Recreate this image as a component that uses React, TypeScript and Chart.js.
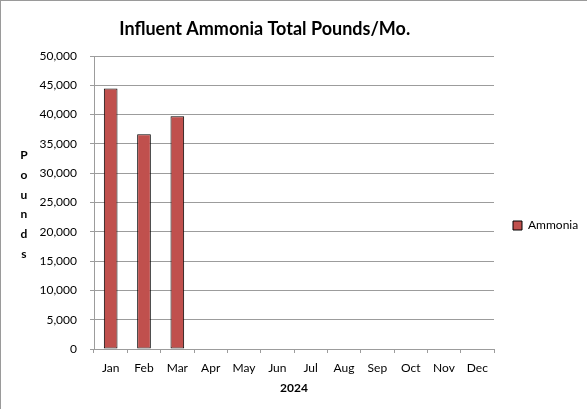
import React, { useEffect, useRef } from 'react';
import { Chart, registerables } from 'chart.js';

Chart.register(...registerables);

const months = ['Jan', 'Feb', 'Mar', 'Apr', 'May', 'Jun', 'Jul', 'Aug', 'Sep', 'Oct', 'Nov', 'Dec'];
const ammonia: (number | null)[] = [44450, 36650, 39700, null, null, null, null, null, null, null, null, null];
const seriesLabel = 'Ammonia';
const chartTitle = 'Influent Ammonia Total Pounds/Mo.';
const yAxisTitle = 'Pounds';
const xAxisTitle = '2024';
const yMin = 0;
const yMax = 50000;
const yStep = 5000;

const FONT = 'Lato, "Open Sans", sans-serif';
const GRID = '#9c9c9c';

export default function App() {
  const ref = useRef<HTMLCanvasElement>(null);

  useEffect(() => {
    const canvas = ref.current;
    if (!canvas) return;
    document.body.style.margin = '0';

    const textPlugin = {
      id: 'excelText',
      afterDraw(chart: any) {
        const ctx = chart.ctx;
        const area = chart.chartArea;
        ctx.save();
        ctx.fillStyle = '#000';
        ctx.textAlign = 'center';
        ctx.textBaseline = 'alphabetic';
        ctx.font = `bold 18px ${FONT}`;
        ctx.fillText(chartTitle, chart.width * 0.45, 34);
        ctx.font = `bold 12px ${FONT}`;
        const letters = Array.from(yAxisTitle);
        const x = chart.scales.y.left - 15;
        const midY = (area.top + area.bottom) / 2 + 6;
        const step = 19.8;
        letters.forEach((ch, i) => {
          ctx.fillText(ch, x, midY + (i - (letters.length - 1) / 2) * step);
        });
        ctx.restore();
      },
    };

    Chart.defaults.font.family = FONT;

    const chart = new Chart(canvas, {
      type: 'bar',
      data: {
        labels: months,
        datasets: [
          {
            label: seriesLabel,
            data: ammonia,
            backgroundColor: '#C0504D',
            borderColor: '#000000',
            borderWidth: 1,
            borderSkipped: false,
            barPercentage: 0.41,
            categoryPercentage: 1,
          },
        ],
      },
      options: {
        responsive: false,
        animation: false,
        layout: { padding: { top: 55, left: 38, right: 0, bottom: 14 } },
        plugins: {
          title: { display: false },
          tooltip: { enabled: false },
          legend: {
            display: true,
            position: 'right',
            maxWidth: 93,
            labels: {
              boxWidth: 9,
              boxHeight: 9,
              padding: 19,
              color: '#000',
              font: { size: 12, family: FONT },
            },
          },
        },
        scales: {
          x: {
            grid: {
              display: true,
              drawOnChartArea: false,
              drawTicks: true,
              tickLength: 4,
              color: GRID,
              offset: true,
            },
            border: { display: true, color: GRID },
            ticks: {
              padding: 8,
              color: '#000',
              font: { size: 12, family: FONT },
              maxRotation: 0,
              autoSkip: false,
            },
            title: {
              display: true,
              text: xAxisTitle,
              color: '#000',
              font: { size: 12, weight: 'bold', family: FONT },
              padding: { top: 5, bottom: 0 },
            },
            afterFit: (s: any) => {
              s.height = 46;
            },
          },
          y: {
            min: yMin,
            max: yMax,
            ticks: {
              stepSize: yStep,
              padding: 13,
              color: '#000',
              font: { size: 12, family: FONT },
              callback: (v: any) => Number(v).toLocaleString('en-US'),
            },
            grid: { color: GRID, tickLength: 4 },
            border: { display: true, color: GRID },
            afterFit: (s: any) => {
              s.width = 55;
            },
          },
        },
      },
      plugins: [textPlugin],
    } as any);

    return () => chart.destroy();
  }, []);

  return (
    <div
      style={{
        position: 'absolute',
        left: 0,
        top: 0,
        width: 587,
        height: 409,
        boxSizing: 'border-box',
        borderLeft: '1px solid #9a9a9a',
        borderTop: '1px solid #9a9a9a',
        background: '#fff',
      }}
    >
      <canvas ref={ref} width={586} height={408} style={{ display: 'block' }} />
    </div>
  );
}
